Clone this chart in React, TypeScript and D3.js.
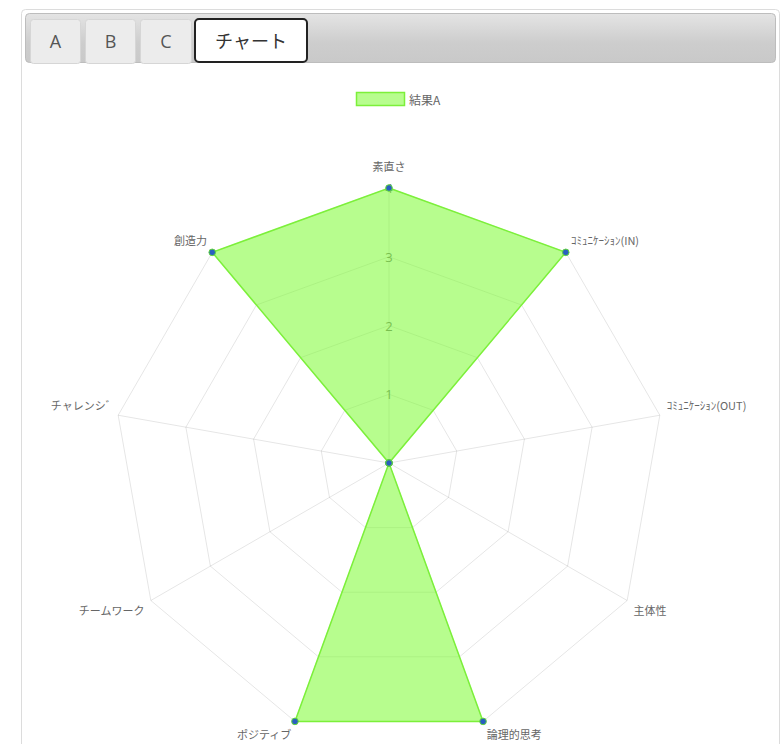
import React, { useEffect, useRef } from "react";
import * as d3 from "d3";

const labels = [
  "素直さ",
  "ｺﾐｭﾆｹｰｼｮﾝ(IN)",
  "ｺﾐｭﾆｹｰｼｮﾝ(OUT)",
  "主体性",
  "論理的思考",
  "ポジティブ",
  "チームワーク",
  "チャレンシﾞ",
  "創造力",
];
const valuesA = [4, 4, 0, 0, 4, 4, 0, 0, 4];
const ticks = [1, 2, 3, 4];
const tabs = ["A", "B", "C", "チャート"];
const seriesName = "結果A";

const W = 782;
const H = 744;

export default function App() {
  const ref = useRef<SVGSVGElement>(null);

  useEffect(() => {
    const svg = d3.select(ref.current);
    svg.selectAll("*").remove();

    const defs = svg.append("defs");
    const grad = defs
      .append("linearGradient")
      .attr("id", "bar")
      .attr("x1", 0)
      .attr("y1", 0)
      .attr("x2", 0)
      .attr("y2", 1);
    grad.append("stop").attr("offset", "0%").attr("stop-color", "#e4e4e4");
    grad.append("stop").attr("offset", "60%").attr("stop-color", "#cdcdcd");
    grad.append("stop").attr("offset", "100%").attr("stop-color", "#c9c9c9");

    // outer panel
    svg
      .append("rect")
      .attr("x", 21.5)
      .attr("y", 9.5)
      .attr("width", 758)
      .attr("height", 760)
      .attr("rx", 4)
      .attr("fill", "#fff")
      .attr("stroke", "#dcdcdc");

    // tab bar
    svg
      .append("rect")
      .attr("x", 25.5)
      .attr("y", 13.5)
      .attr("width", 750)
      .attr("height", 49)
      .attr("rx", 4)
      .attr("fill", "url(#bar)")
      .attr("stroke", "#bdbdbd");

    const tabX = [30, 85, 140, 195];
    const tabW = [50, 50, 51, 112];
    tabs.forEach((t, i) => {
      const active = i === tabs.length - 1;
      const g = svg.append("g");
      if (active) {
        g.append("rect")
          .attr("x", tabX[i])
          .attr("y", 19)
          .attr("width", tabW[i])
          .attr("height", 43)
          .attr("rx", 4)
          .attr("fill", "#fff")
          .attr("stroke", "#222")
          .attr("stroke-width", 2);
      } else {
        g.append("rect")
          .attr("x", tabX[i] + 0.5)
          .attr("y", 19.5)
          .attr("width", tabW[i])
          .attr("height", 44)
          .attr("rx", 3)
          .attr("fill", "#ececec")
          .attr("stroke", "#d6d6d6");
      }
      g.append("text")
        .attr("x", tabX[i] + tabW[i] / 2 + (active ? 0 : 0.5))
        .attr("y", 41)
        .attr("text-anchor", "middle")
        .attr("dominant-baseline", "central")
        .style("font-family", "'Open Sans', 'Noto Sans CJK JP', sans-serif")
        .style("font-size", "18px")
        .attr("fill", active ? "#333" : "#555")
        .text(t);
    });

    // radar chart
    const cx = 389;
    const cy = 463;
    const n = labels.length;
    const r = d3.scaleLinear().domain([0, 4]).range([0, 275]);
    const angle = (i: number) => (i * 2 * Math.PI) / n;
    const px = (i: number, v: number) => cx + Math.sin(angle(i)) * r(v);
    const py = (i: number, v: number) => cy - Math.cos(angle(i)) * r(v);

    const grid = svg.append("g");
    labels.forEach((_, i) => {
      grid
        .append("line")
        .attr("x1", cx)
        .attr("y1", cy)
        .attr("x2", px(i, 4))
        .attr("y2", py(i, 4))
        .attr("stroke", "rgba(0,0,0,0.1)");
    });
    ticks.forEach((t) => {
      grid
        .append("path")
        .attr(
          "d",
          d3
            .lineRadial<number>()
            .angle((_, i) => angle(i))
            .radius(() => r(t))
            .curve(d3.curveLinearClosed)(labels.map(() => t))
        )
        .attr("transform", `translate(${cx},${cy})`)
        .attr("fill", "none")
        .attr("stroke", "rgba(0,0,0,0.1)");
    });

    ticks.forEach((t) => {
      svg
        .append("text")
        .attr("x", cx)
        .attr("y", cy - r(t))
        .attr("text-anchor", "middle")
        .attr("dominant-baseline", "central")
        .style("font-family", "'Open Sans', sans-serif")
        .style("font-size", "13px")
        .attr("fill", "#777")
        .text(t);
    });

    const radar = d3
      .lineRadial<number>()
      .angle((_, i) => angle(i))
      .radius((d) => r(d))
      .curve(d3.curveLinearClosed);

    svg
      .append("path")
      .attr("d", radar(valuesA))
      .attr("transform", `translate(${cx},${cy})`)
      .attr("fill", "rgba(124,252,50,0.55)")
      .attr("stroke", "#7cf03a")
      .attr("stroke-width", 1.5)
      .attr("stroke-linejoin", "miter");

    valuesA.forEach((v, i) => {
      svg
        .append("circle")
        .attr("cx", px(i, v))
        .attr("cy", py(i, v))
        .attr("r", 3.3)
        .attr("fill", "#2a5fc0")
        .attr("stroke", "#62d83a")
        .attr("stroke-width", 1);
    });

    // point labels
    labels.forEach((l, i) => {
      const deg = (i * 360) / n;
      const x = px(i, 4.0 + 5 / 68.75);
      const y = py(i, 4.0 + 5 / 68.75);
      const anchor = deg === 0 || deg === 180 ? "middle" : deg < 180 ? "start" : "end";
      const upper = deg < 90 || deg > 270;
      const dy = deg === 0 ? -12 : upper ? -4 : 2;
      svg
        .append("text")
        .attr("x", x + (anchor === "start" ? 2 : anchor === "end" ? -2 : 0))
        .attr("y", y + dy)
        .attr("text-anchor", anchor)
        .attr("dominant-baseline", upper ? "auto" : "hanging")
        .style("font-family", "'Noto Sans CJK JP', sans-serif")
        .style("font-size", "11px")
        .attr("fill", "#666")
        .text(l);
    });

    // legend
    svg
      .append("rect")
      .attr("x", 356.5)
      .attr("y", 92.5)
      .attr("width", 48)
      .attr("height", 13)
      .attr("fill", "rgba(124,252,50,0.55)")
      .attr("stroke", "#7cf03a")
      .attr("stroke-width", 1.5);
    svg
      .append("text")
      .attr("x", 409)
      .attr("y", 99)
      .attr("dominant-baseline", "central")
      .style("font-family", "'Noto Sans CJK JP', sans-serif")
      .style("font-size", "12px")
      .attr("fill", "#666")
      .text(seriesName);
  }, []);

  return (
    <svg
      ref={ref}
      width={W}
      height={H}
      style={{ position: "absolute", left: 0, top: 0, display: "block" }}
    />
  );
}
